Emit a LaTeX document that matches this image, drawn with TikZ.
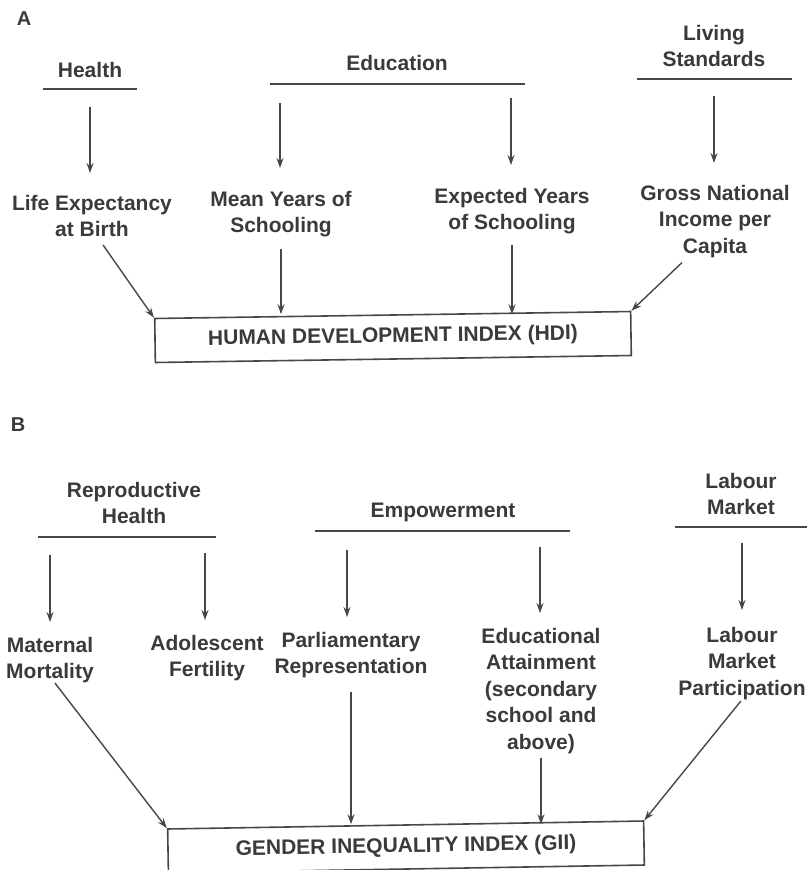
\documentclass[tikz,border=0pt]{standalone}
\usepackage{fontspec}
\setmainfont{Liberation Sans}
\usetikzlibrary{arrows.meta}
\definecolor{ink}{HTML}{3A3A3A}
\definecolor{rule}{HTML}{474747}
\begin{document}
\begin{tikzpicture}[x=1pt,y=-1pt,
  lbl/.style={font=\bfseries\fontsize{21}{26.5}\selectfont, text=ink, align=center,
              inner sep=0pt, outer sep=0pt, anchor=north},
  panel/.style={font=\bfseries\fontsize{20}{24}\selectfont, text=ink, inner sep=0pt},
  bar/.style={draw=rule, line width=1.8pt},
  arr/.style={draw=rule, line width=1.4pt, -{Stealth[length=10pt,width=7pt]}},
  index/.style={draw=rule, line width=1.6pt, minimum width=476pt, minimum height=44pt,
                font=\bfseries\fontsize{21}{26}\selectfont, text=ink, inner sep=0pt}
]
\useasboundingbox[fill=white] (0,0) rectangle (807,870);

% ---------------- Panel A: Human Development Index ----------------
\node[panel] (pA) at (24,19) {A};

% dimensions
\node[lbl] (health) at (90,62) {Health};
\node[lbl] (educ)   at (397,55) {Education};
\node[lbl] (living) at (714,25) {Living\\Standards};
\draw[bar] (43,89) -- (137,89);
\draw[bar] (270,84) -- (525,84);
\draw[bar] (637,79) -- (792,79);

% indicators
\node[lbl] (life) at (92,195)  {Life Expectancy\\at Birth};
\node[lbl] (mys)  at (281,191) {Mean Years of\\Schooling};
\node[lbl] (eys)  at (512,188) {Expected Years\\of Schooling};
\node[lbl] (gni)  at (715,185) {Gross National\\Income per\\Capita};

\coordinate (tLife) at (90,107);
\coordinate (tMys)  at (280,103);
\coordinate (tEys)  at (511,98);
\coordinate (tGni)  at (714,96);
\draw[arr, shorten >=22pt] (tLife) -- (tLife |- life.north);
\draw[arr, shorten >=23pt] (tMys)  -- (tMys |- mys.north);
\draw[arr, shorten >=23pt] (tEys)  -- (tEys |- eys.north);
\draw[arr, shorten >=22pt] (tGni)  -- (tGni |- gni.north);

% index box
\node[index, rotate=0.84] (hdi) at (393,337) {HUMAN DEVELOPMENT INDEX (HDI)};
\draw[arr] ([shift={(11pt,-8pt)}]life.south) -- (hdi.north west);
\draw[arr, shorten <=12pt] (mys.south) -- (mys.south |- hdi.north);
\draw[arr, shorten <=11pt] (eys.south) -- (eys.south |- hdi.north);
\draw[arr] ([shift={(-33pt,-5pt)}]gni.south) -- (hdi.north east);

% ---------------- Panel B: Gender Inequality Index ----------------
\node[panel] (pB) at (18,425) {B};

% dimensions
\node[lbl] (rh)  at (134,482) {Reproductive\\Health};
\node[lbl] (emp) at (443,503) {Empowerment};
\node[lbl] (lm)  at (741,473) {Labour\\Market};
\draw[bar] (38,537) -- (216,537);
\draw[bar] (315,531) -- (570,531);
\draw[bar] (675,527) -- (807,527);

% indicators
\node[lbl] (mat)  at (50,637)  {Maternal\\Mortality};
\node[lbl] (ado)  at (207,635) {Adolescent\\Fertility};
\node[lbl] (parl) at (351,632) {Parliamentary\\Representation};
\node[lbl] (edu)  at (541,628) {Educational\\Attainment\\(secondary\\school and\\above)};
\node[lbl] (lab)  at (742,627) {Labour\\Market\\Participation};

\coordinate (tMat)  at (50,555);
\coordinate (tAdo)  at (205,553);
\coordinate (tParl) at (347,550);
\coordinate (tEdu)  at (540,547);
\coordinate (tLab)  at (742,543);
\draw[arr, shorten >=15pt] (tMat)  -- (tMat |- mat.north);
\draw[arr, shorten >=15pt] (tAdo)  -- (tAdo |- ado.north);
\draw[arr, shorten >=15pt] (tParl) -- (tParl |- parl.north);
\draw[arr, shorten >=15pt] (tEdu)  -- (tEdu |- edu.north);
\draw[arr, shorten >=17pt] (tLab)  -- (tLab |- lab.north);

% index box
\node[index, rotate=0.96] (gii) at (406,847) {GENDER INEQUALITY INDEX (GII)};
\draw[arr] ([xshift=5pt]mat.south) -- (gii.north west);
\draw[arr, shorten <=14pt] (parl.south) -- (parl.south |- gii.north);
\draw[arr, shorten <=4pt] (edu.south) -- (edu.south |- gii.north);
\draw[arr, shorten <=2pt] (lab.south) -- (gii.north east);
\end{tikzpicture}
\end{document}
